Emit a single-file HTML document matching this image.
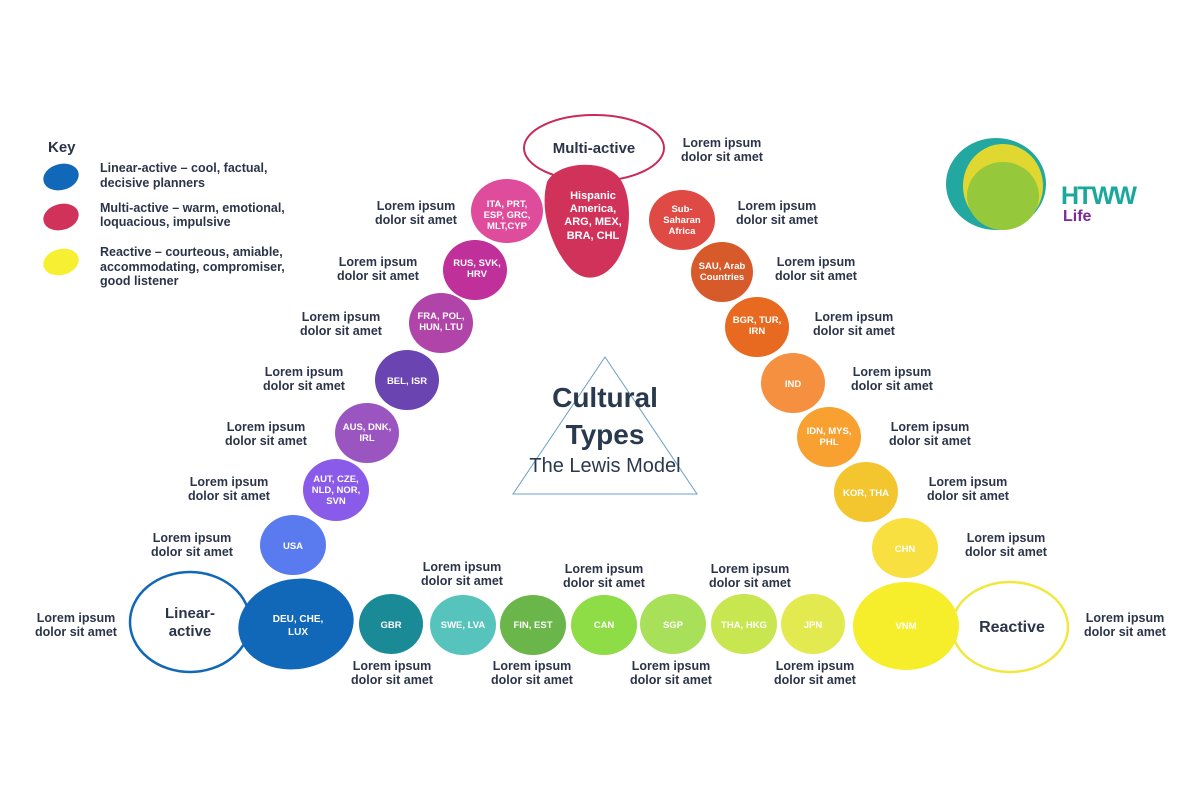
<!DOCTYPE html>
<html><head><meta charset="utf-8"><style>
html,body{margin:0;padding:0;background:#fff;}
svg{display:block;font-family:"Liberation Sans",sans-serif;}
.l{font-size:12.5px;font-weight:bold;fill:#2b3448;text-anchor:middle;}
.k{font-size:12.5px;font-weight:bold;fill:#2b3448;}
.n{font-size:9.5px;font-weight:bold;fill:#fff;text-anchor:middle;}
</style></head><body>
<svg width="1200" height="800" viewBox="0 0 1200 800">
<!-- Key -->
<text x="48" y="152" class="k" style="font-size:15px">Key</text>
<ellipse cx="61" cy="177" rx="18" ry="13" fill="#1167b8" transform="rotate(-15 61 177)"/>
<ellipse cx="61" cy="217" rx="18" ry="13" fill="#d1325a" transform="rotate(-15 61 217)"/>
<ellipse cx="61" cy="262" rx="18" ry="13" fill="#f7f032" transform="rotate(-15 61 262)"/>
<text class="k" x="100" y="172">Linear-active – cool, factual,</text>
<text class="k" x="100" y="187">decisive planners</text>
<text class="k" x="100" y="212">Multi-active – warm, emotional,</text>
<text class="k" x="100" y="226">loquacious, impulsive</text>
<text class="k" x="100" y="256">Reactive – courteous, amiable,</text>
<text class="k" x="100" y="271">accommodating, compromiser,</text>
<text class="k" x="100" y="285">good listener</text>

<!-- Logo -->
<ellipse cx="985" cy="180" rx="32" ry="38" fill="#8a3aa0"/>
<ellipse cx="996" cy="184" rx="50" ry="46" fill="#22a8a0"/>
<ellipse cx="1003" cy="186" rx="40" ry="42" fill="#e0d830"/>
<ellipse cx="1003" cy="196" rx="36" ry="34" fill="#96c83c"/>
<text x="1061" y="204" style="font-size:25px;font-weight:bold;fill:#1aa89a;letter-spacing:-1.5px">HTWW</text>
<text x="1063" y="221" style="font-size:16px;font-weight:bold;fill:#7a2a90">Life</text>

<!-- outline ellipses -->
<ellipse cx="594" cy="148" rx="70" ry="33" fill="none" stroke="#c82a5a" stroke-width="2"/>
<ellipse cx="190" cy="622" rx="60" ry="50" fill="none" stroke="#1167b8" stroke-width="2.5"/>
<ellipse cx="1010" cy="627" rx="58" ry="45" fill="none" stroke="#f0e840" stroke-width="2.5"/>
<text x="594" y="153" class="l" style="font-size:15px">Multi-active</text>
<text x="190" y="618" class="l" style="font-size:15px">Linear-</text>
<text x="190" y="636" class="l" style="font-size:15px">active</text>
<text x="1012" y="632" class="l" style="font-size:16px">Reactive</text>

<!-- Triangle and title -->
<polygon points="605,357 513,494 697,494" fill="none" stroke="#6aa0c8" stroke-width="1"/>
<text x="605" y="407" class="l" style="font-size:28px;fill:#2a3a4e">Cultural</text>
<text x="605" y="444" class="l" style="font-size:28px;fill:#2a3a4e">Types</text>
<text x="605" y="472" style="font-size:20px;fill:#2a3a4e;text-anchor:middle">The Lewis Model</text>

<!-- blobs -->
<g>
<path d="M547,182 C558,160 610,158 622,182 C633,202 631,240 616,262 C603,280 585,282 572,270 C556,255 538,215 547,182 Z" fill="#d1325a"/>
<ellipse cx="507" cy="211" rx="36" ry="32" fill="#e04c9c"/>
<ellipse cx="682" cy="220" rx="33" ry="30" fill="#e04a45"/>
<ellipse cx="475" cy="270" rx="32" ry="30" fill="#c0309a"/>
<ellipse cx="722" cy="272" rx="31" ry="30" fill="#d65a2a"/>
<ellipse cx="441" cy="323" rx="32" ry="30" fill="#b044a8"/>
<ellipse cx="757" cy="327" rx="32" ry="30" fill="#e86a20"/>
<ellipse cx="407" cy="380" rx="32" ry="30" fill="#6a44b0"/>
<ellipse cx="793" cy="383" rx="32" ry="30" fill="#f59040"/>
<ellipse cx="367" cy="433" rx="32" ry="30" fill="#9a55c0"/>
<ellipse cx="829" cy="437" rx="32" ry="30" fill="#f8a030"/>
<ellipse cx="336" cy="490" rx="33" ry="31" fill="#8a5ae8"/>
<ellipse cx="866" cy="492" rx="32" ry="30" fill="#f3c62f"/>
<ellipse cx="293" cy="545" rx="33" ry="30" fill="#5a7af0"/>
<ellipse cx="905" cy="548" rx="33" ry="30" fill="#f8e040"/>
<ellipse cx="296" cy="624" rx="58" ry="45" fill="#1167b8" transform="rotate(-10 296 624)"/>
<ellipse cx="906" cy="626" rx="53" ry="44" fill="#f6ee2a"/>
<ellipse cx="391" cy="624" rx="32" ry="30" fill="#1a8a96"/>
<ellipse cx="463" cy="625" rx="33" ry="30" fill="#56c4bc"/>
<ellipse cx="533" cy="625" rx="33" ry="30" fill="#6ab64a"/>
<ellipse cx="604" cy="625" rx="33" ry="30" fill="#8edc46"/>
<ellipse cx="673" cy="624" rx="33" ry="30" fill="#a8e05a"/>
<ellipse cx="744" cy="624" rx="33" ry="30" fill="#c8e650"/>
<ellipse cx="813" cy="624" rx="32" ry="30" fill="#e2ea50"/>
</g>
<!-- node labels -->
<g class="n">
<text class="n" style="font-size:11px" x="593" y="199">Hispanic</text>
<text class="n" style="font-size:11px" x="593" y="212">America,</text>
<text class="n" style="font-size:11px" x="593" y="225">ARG, MEX,</text>
<text class="n" style="font-size:11px" x="593" y="239">BRA, CHL</text>
<text class="n" x="507" y="207">ITA, PRT,</text><text class="n" x="507" y="218">ESP, GRC,</text><text class="n" x="507" y="229">MLT,CYP</text>
<text class="n" x="682" y="212">Sub-</text><text class="n" x="682" y="223">Saharan</text><text class="n" x="682" y="234">Africa</text>
<text class="n" x="477" y="266">RUS, SVK,</text><text class="n" x="477" y="277">HRV</text>
<text class="n" x="722" y="269">SAU, Arab</text><text class="n" x="722" y="280">Countries</text>
<text class="n" x="441" y="319">FRA, POL,</text><text class="n" x="441" y="330">HUN, LTU</text>
<text class="n" x="757" y="323">BGR, TUR,</text><text class="n" x="757" y="334">IRN</text>
<text class="n" x="407" y="384">BEL, ISR</text>
<text class="n" x="793" y="387">IND</text>
<text class="n" x="367" y="430">AUS, DNK,</text><text class="n" x="367" y="441">IRL</text>
<text class="n" x="829" y="434">IDN, MYS,</text><text class="n" x="829" y="445">PHL</text>
<text class="n" x="336" y="482">AUT, CZE,</text><text class="n" x="336" y="493">NLD, NOR,</text><text class="n" x="336" y="504">SVN</text>
<text class="n" x="866" y="496">KOR, THA</text>
<text class="n" x="293" y="549">USA</text>
<text class="n" x="905" y="552">CHN</text>
<text class="n" style="font-size:10px" x="298" y="622">DEU, CHE,</text><text class="n" style="font-size:10px" x="298" y="635">LUX</text>
<text class="n" x="906" y="629">VNM</text>
<text class="n" x="391" y="628">GBR</text>
<text class="n" x="463" y="628">SWE, LVA</text>
<text class="n" x="533" y="628">FIN, EST</text>
<text class="n" x="604" y="628">CAN</text>
<text class="n" x="673" y="628">SGP</text>
<text class="n" x="744" y="628">THA, HKG</text>
<text class="n" x="813" y="628">JPN</text>
</g>
<!-- Lorem labels -->
<g>
<text class="l" x="416" y="210">Lorem ipsum</text><text class="l" x="416" y="224">dolor sit amet</text>
<text class="l" x="378" y="266">Lorem ipsum</text><text class="l" x="378" y="280">dolor sit amet</text>
<text class="l" x="341" y="321">Lorem ipsum</text><text class="l" x="341" y="335">dolor sit amet</text>
<text class="l" x="304" y="376">Lorem ipsum</text><text class="l" x="304" y="390">dolor sit amet</text>
<text class="l" x="266" y="431">Lorem ipsum</text><text class="l" x="266" y="445">dolor sit amet</text>
<text class="l" x="229" y="486">Lorem ipsum</text><text class="l" x="229" y="500">dolor sit amet</text>
<text class="l" x="192" y="542">Lorem ipsum</text><text class="l" x="192" y="556">dolor sit amet</text>
<text class="l" x="76" y="622">Lorem ipsum</text><text class="l" x="76" y="636">dolor sit amet</text>
<text class="l" x="722" y="147">Lorem ipsum</text><text class="l" x="722" y="161">dolor sit amet</text>
<text class="l" x="777" y="210">Lorem ipsum</text><text class="l" x="777" y="224">dolor sit amet</text>
<text class="l" x="816" y="266">Lorem ipsum</text><text class="l" x="816" y="280">dolor sit amet</text>
<text class="l" x="854" y="321">Lorem ipsum</text><text class="l" x="854" y="335">dolor sit amet</text>
<text class="l" x="892" y="376">Lorem ipsum</text><text class="l" x="892" y="390">dolor sit amet</text>
<text class="l" x="930" y="431">Lorem ipsum</text><text class="l" x="930" y="445">dolor sit amet</text>
<text class="l" x="968" y="486">Lorem ipsum</text><text class="l" x="968" y="500">dolor sit amet</text>
<text class="l" x="1006" y="542">Lorem ipsum</text><text class="l" x="1006" y="556">dolor sit amet</text>
<text class="l" x="1125" y="622">Lorem ipsum</text><text class="l" x="1125" y="636">dolor sit amet</text>
<text class="l" x="462" y="571">Lorem ipsum</text><text class="l" x="462" y="585">dolor sit amet</text>
<text class="l" x="604" y="573">Lorem ipsum</text><text class="l" x="604" y="587">dolor sit amet</text>
<text class="l" x="750" y="573">Lorem ipsum</text><text class="l" x="750" y="587">dolor sit amet</text>
<text class="l" x="392" y="670">Lorem ipsum</text><text class="l" x="392" y="684">dolor sit amet</text>
<text class="l" x="532" y="670">Lorem ipsum</text><text class="l" x="532" y="684">dolor sit amet</text>
<text class="l" x="671" y="670">Lorem ipsum</text><text class="l" x="671" y="684">dolor sit amet</text>
<text class="l" x="815" y="670">Lorem ipsum</text><text class="l" x="815" y="684">dolor sit amet</text>
</g>
</svg>
</body></html>
